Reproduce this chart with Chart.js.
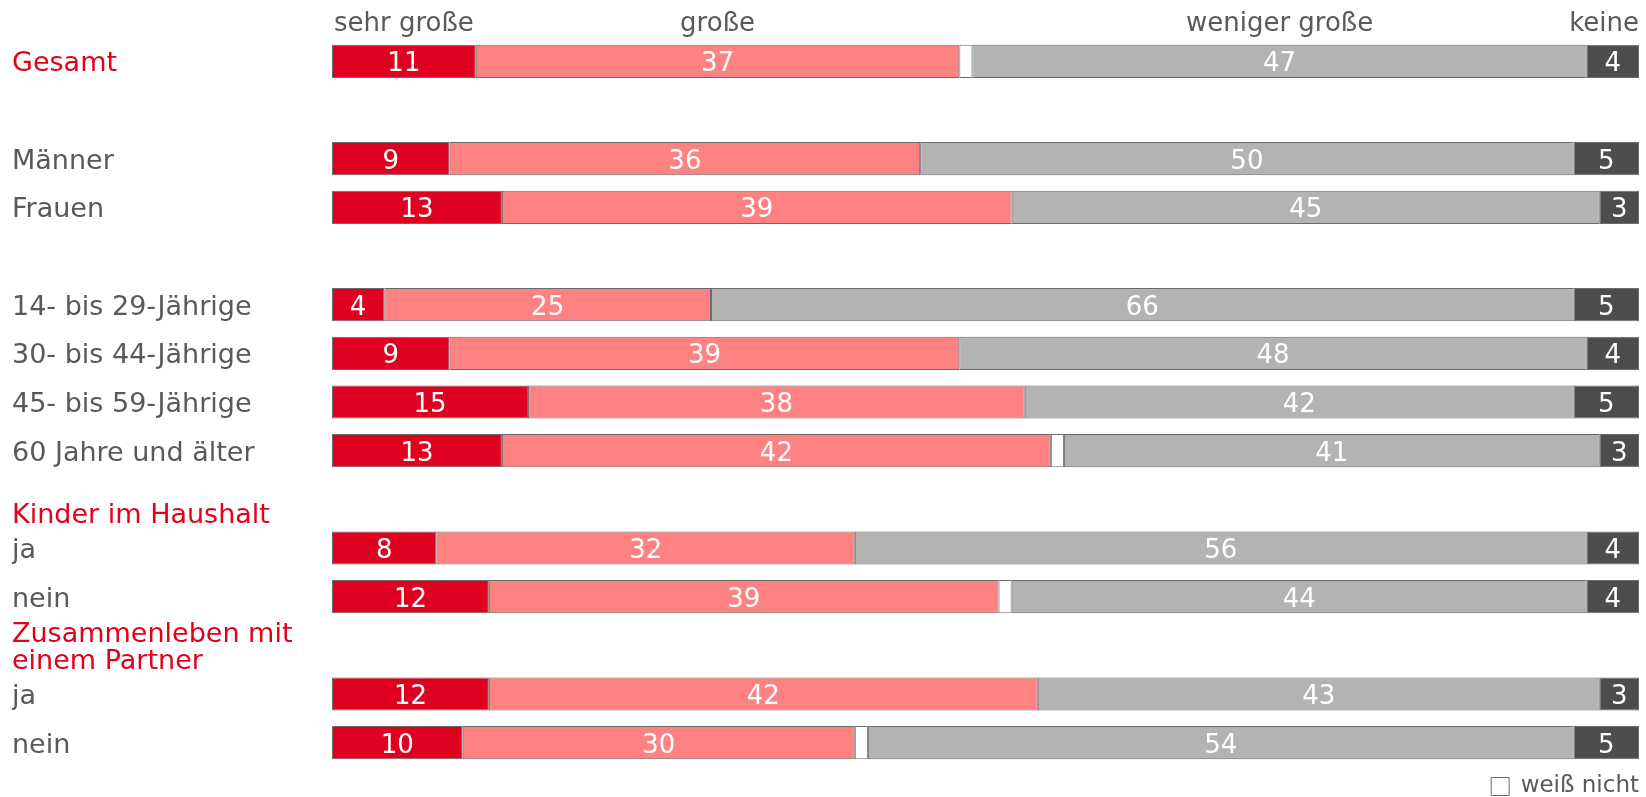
<!DOCTYPE html>
<html lang="de">
<head>
<meta charset="utf-8">
<title>Sorgen – gestapelte Balken</title>
<style>
  html, body { margin: 0; background: #fff; }
  #wrap { width: 1646px; height: 797px; position: relative; }
</style>
</head>
<body>
<div id="wrap"><canvas id="chart"></canvas></div>

<script src="https://cdn.jsdelivr.net/npm/chart.js"></script>
<script>
  // Zeilen (leere Strings = Abstandszeilen)
  const categories = [
    'Gesamt', '', 'Männer', 'Frauen', '',
    '14- bis 29-Jährige', '30- bis 44-Jährige', '45- bis 59-Jährige', '60 Jahre und älter',
    'Kinder im Haushalt', 'ja', 'nein',
    ['Zusammenleben mit', 'einem Partner'], 'ja', 'nein'
  ];
  const headerRows = [0, 9, 12];

  const segments = ['sehr große', 'große', 'weiß nicht', 'weniger große', 'keine'];
  const sehrGross    = [11, null, 9, 13, null, 4, 9, 15, 13, null, 8, 12, null, 12, 10];
  const gross        = [37, null, 36, 39, null, 25, 39, 38, 42, null, 32, 39, null, 42, 30];
  const weissNicht   = [1, null, 0, 0, null, 0, 0, 0, 1, null, 0, 1, null, 0, 1];
  const wenigerGross = [47, null, 50, 45, null, 66, 48, 42, 41, null, 56, 44, null, 43, 54];
  const keine        = [4, null, 5, 3, null, 5, 4, 5, 3, null, 4, 4, null, 3, 5];

  const colors = ['#e0001f', '#ff8282', '#ffffff', '#b3b3b3', '#4d4d4d'];
  const textGray = '#595959';
  const textRed = '#e2001a';

  Chart.defaults.font.family = '"DejaVu Sans", Verdana, sans-serif';

  // Werte in die Balken schreiben + Kopfzeile über "Gesamt"
  const valueLabels = {
    id: 'valueLabels',
    afterDatasetsDraw(chart) {
      const { ctx, chartArea } = chart;
      ctx.save();
      ctx.textAlign = 'center';
      ctx.textBaseline = 'alphabetic';
      ctx.font = '26px "DejaVu Sans"';
      ctx.fillStyle = '#fff';
      chart.data.datasets.forEach((ds, i) => {
        if (i === 2) return;
        chart.getDatasetMeta(i).data.forEach((bar, j) => {
          const v = ds.data[j];
          if (!v) return;
          const { x, base, y } = bar.getProps(['x', 'base', 'y'], true);
          ctx.fillText(String(v), (x + base) / 2, y + 10);
        });
      });

      ctx.fillStyle = textGray;
      [0, 1, 3, 4].forEach(i => {
        const bar = chart.getDatasetMeta(i).data[0];
        const { x, base } = bar.getProps(['x', 'base'], true);
        const w = ctx.measureText(segments[i]).width;
        const cx = Math.min((x + base) / 2, chartArea.right - w / 2);
        ctx.fillText(segments[i], cx, 31);
      });
      ctx.restore();
    }
  };

  const data = [sehrGross, gross, weissNicht, wenigerGross, keine];

  new Chart(document.getElementById('chart'), {
    type: 'bar',
    data: {
      labels: categories,
      datasets: data.map((values, i) => ({
        label: segments[i],
        data: values,
        backgroundColor: colors[i],
        borderColor: '#6a6a6a',
        borderWidth: 1,
        borderSkipped: false,
        barPercentage: 1,
        categoryPercentage: 0.68
      }))
    },
    options: {
      indexAxis: 'y',
      responsive: true,
      maintainAspectRatio: false,
      animation: false,
      layout: { padding: { top: 37, left: 12, right: 7, bottom: -11 } },
      plugins: {
        tooltip: { enabled: false },
        legend: {
          position: 'bottom',
          align: 'end',
          // leerer Titel schiebt den Eintrag etwas nach unten
          title: { display: true, text: '', padding: 0, font: { size: 8, lineHeight: 1 } },
          labels: {
            filter: item => item.datasetIndex === 2,
            boxWidth: 18,
            boxHeight: 18,
            padding: 0,
            color: textGray,
            font: { size: 23 }
          }
        }
      },
      scales: {
        x: { stacked: true, min: 0, max: 100, display: false },
        y: {
          stacked: true,
          grid: { display: false },
          border: { display: false },
          afterFit: scale => { scale.width = 320; },
          ticks: {
            autoSkip: false,
            crossAlign: 'far',
            padding: 0,
            labelOffset: 3,
            font: { size: 27, lineHeight: 1.0 },
            color: ctx => headerRows.includes(ctx.index) ? textRed : textGray,
            callback: function (value, index) {
              const lbl = this.getLabelForValue(value);
              // Abschnittstitel sitzt etwas tiefer als die Zeilenmitte
              return index === 9 ? ['', lbl] : lbl;
            }
          }
        }
      }
    },
    plugins: [valueLabels]
  });
</script>
</body>
</html>
